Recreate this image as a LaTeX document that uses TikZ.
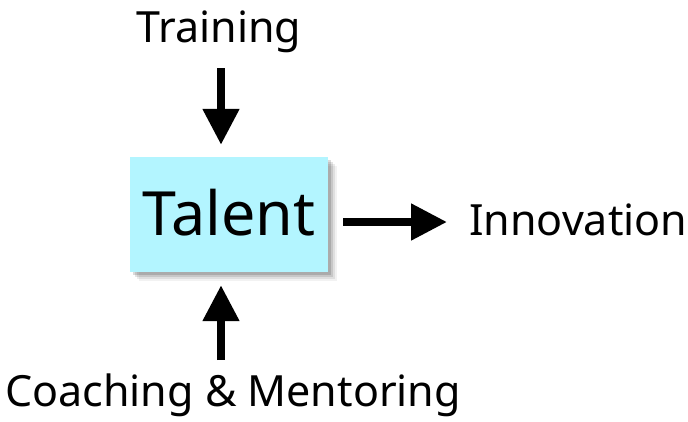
\documentclass[tikz,border=0pt]{standalone}
\usepackage{fontspec}
\setmainfont{Noto Sans}
\usetikzlibrary{arrows.meta,calc}
\begin{document}
\begin{tikzpicture}[x=1pt,y=-1pt,
  lbl/.style={inner sep=0pt,font=\fontsize{43}{49}\selectfont},
  bigarrow/.style={line width=8pt,-{Triangle[length=36pt,width=35pt]}},
  talentbox/.style={fill={rgb,255:red,179;green,245;blue,255},minimum width=198pt,minimum height=115pt,inner sep=0pt,font=\fontsize{61}{67}\selectfont}]
\useasboundingbox (0,0) rectangle (688,421);
% shadow
\foreach \o/\op in {9/0.05,7/0.08,5/0.11,3/0.14}{
  \fill[black,opacity=\op] (130+\o,157+\o) rectangle (328+\o,272+\o);
}
\node[talentbox,text depth=0pt,text height=42pt] (talent) at (229,214.5) {Talent};
\node[lbl,anchor=base] (training) at (219,42) {Training};
\node[lbl,anchor=base west] (innovation) at (469,235) {Innovation};
\node[lbl,anchor=base west] (coaching) at (5,406) {Coaching \& Mentoring};
\coordinate (ts) at (221,68);
\coordinate (bs) at (221,360);
\draw[bigarrow] (ts) -- (ts |- talent.north) [shorten >=12pt];
\draw[bigarrow,shorten >=13pt] (bs) -- (bs |- talent.south);
\draw[bigarrow,shorten <=15pt,shorten >=22pt] (talent.east |- 0,222) -- (innovation.west |- 0,222);
\end{tikzpicture}
\end{document}
